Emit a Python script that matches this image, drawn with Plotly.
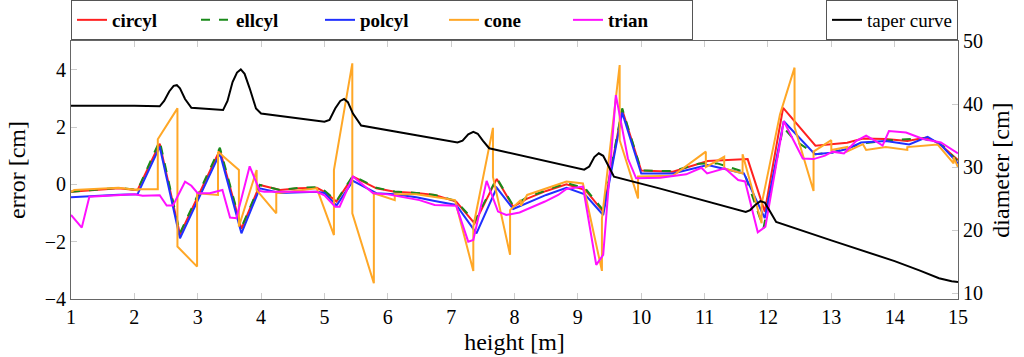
import plotly.graph_objects as go

# ---- data ----
circyl_h = [1.0, 1.4, 1.75, 2.05, 2.40, 2.72, 3.35, 3.69, 3.98, 4.3, 4.6, 4.88, 5.0, 5.19, 5.45, 5.82, 6.11, 6.45, 6.74, 7.08, 7.37, 7.72, 7.98, 8.2, 8.5, 8.82, 9.12, 9.40, 9.70, 10.0, 10.5, 11.05, 11.68, 11.95, 12.24, 12.75, 13.0, 13.25, 13.5, 13.86, 14.2, 14.5, 14.7, 15.0]
circyl_e = [-0.26, -0.2, -0.14, -0.2, 1.42, -1.75, 1.2, -1.55, -0.02, -0.2, -0.14, -0.12, -0.26, -0.6, 0.27, -0.14, -0.26, -0.3, -0.37, -0.6, -1.36, 0.19, -0.78, -0.5, -0.23, 0.0, -0.2, -0.95, 2.6, 0.48, 0.44, 0.81, 0.88, -0.95, 2.67, 1.35, 1.4, 1.45, 1.6, 1.58, 1.51, 1.63, 1.43, 0.85]

ellcyl_h = [1.0, 1.4, 1.75, 2.05, 2.40, 2.72, 3.35, 3.69, 3.98, 4.3, 4.6, 4.88, 5.0, 5.19, 5.45, 5.82, 6.11, 6.45, 6.74, 7.08, 7.37, 7.72, 7.98, 8.2, 8.5, 8.82, 9.12, 9.40, 9.70, 10.0, 10.5, 10.9, 11.2, 11.62, 11.93, 12.24, 12.42, 12.75, 13.0, 13.19, 13.5, 13.92, 14.45, 14.76, 15.0]
ellcyl_e = [-0.26, -0.18, -0.12, -0.2, 1.52, -1.7, 1.28, -1.5, -0.02, -0.2, -0.12, -0.1, -0.22, -0.58, 0.3, -0.12, -0.25, -0.3, -0.37, -0.58, -1.3, 0.22, -0.75, -0.45, -0.2, 0.05, -0.15, -0.9, 2.65, 0.48, 0.46, 0.72, 0.73, 0.44, -1.53, 2.0, 1.54, 1.05, 1.1, 1.23, 1.43, 1.54, 1.6, 1.35, 0.79]

polcyl_h = [1.0, 1.4, 1.75, 2.05, 2.40, 2.72, 3.35, 3.69, 3.98, 4.3, 4.6, 4.88, 5.0, 5.19, 5.45, 5.82, 6.11, 6.45, 6.74, 7.08, 7.40, 7.72, 7.98, 8.2, 8.5, 8.82, 9.11, 9.40, 9.70, 10.0, 10.5, 11.05, 11.62, 11.95, 12.25, 12.74, 13.0, 13.25, 13.47, 13.86, 14.23, 14.52, 14.73, 15.0]
polcyl_e = [-0.45, -0.4, -0.36, -0.35, 1.31, -1.88, 1.08, -1.71, -0.14, -0.3, -0.28, -0.26, -0.3, -0.74, 0.12, -0.31, -0.35, -0.45, -0.58, -0.72, -1.71, -0.12, -0.86, -0.65, -0.37, -0.12, -0.35, -1.07, 2.5, 0.38, 0.38, 0.67, 0.38, -1.18, 2.2, 1.05, 1.1, 1.23, 1.46, 1.51, 1.39, 1.66, 1.38, 0.73]

cone_h = [1.0, 1.05, 1.75, 2.05, 2.05, 2.37, 2.37, 2.68, 2.68, 2.99, 2.99, 3.32, 3.32, 3.65, 3.65, 3.93, 3.93, 4.24, 4.24, 4.88, 5.15, 5.15, 5.44, 5.44, 5.78, 5.78, 6.11, 6.11, 6.45, 6.74, 7.06, 7.35, 7.35, 7.66, 7.66, 7.93, 7.93, 8.1, 8.1, 8.2, 8.5, 8.82, 9.08, 9.38, 9.38, 9.66, 9.66, 9.95, 9.95, 10.5, 11.02, 11.02, 11.31, 11.31, 11.6, 11.6, 11.9, 11.9, 12.19, 12.42, 12.42, 12.72, 12.72, 13.0, 13.0, 13.25, 13.25, 13.5, 13.55, 13.86, 14.2, 14.2, 14.68, 14.93, 14.93, 15.0]
cone_e = [-0.26, -0.2, -0.12, -0.2, -0.17, -0.17, 1.57, 2.65, -2.17, -2.87, -0.31, -0.37, 1.14, 0.5, -1.47, 0.5, -0.2, -1.01, -0.31, -0.14, -1.77, 0.5, 4.22, -1.01, -3.45, -0.31, -0.55, -0.35, -0.35, -0.45, -0.55, -3.02, -1.47, 1.97, 0.26, -2.46, -0.9, -0.55, -0.75, -0.37, -0.15, 0.1, 0.03, -3.02, -1.2, 4.16, 1.54, -0.49, 0.27, 0.3, 1.14, 0.6, 0.96, 0.55, 0.38, 1.05, -1.36, -0.7, 2.44, 4.07, 2.0, -0.23, 1.14, 1.54, 1.2, 1.3, 1.15, 1.4, 1.2, 1.3, 1.2, 1.3, 1.39, 0.73, 0.95, 0.6]

trian_h = [1.0, 1.17, 1.29, 1.6, 2.0, 2.13, 2.40, 2.51, 2.61, 2.80, 2.90, 3.0, 3.19, 3.39, 3.51, 3.61, 3.82, 3.98, 4.05, 4.88, 5.0, 5.17, 5.24, 5.45, 5.53, 5.77, 6.0, 6.5, 6.74, 7.08, 7.27, 7.35, 7.56, 7.74, 7.87, 8.08, 8.48, 8.69, 8.82, 9.08, 9.29, 9.40, 9.60, 9.79, 9.92, 10.3, 10.71, 10.95, 11.04, 11.32, 11.53, 11.64, 11.84, 11.96, 12.25, 12.55, 12.72, 12.9, 13.02, 13.2, 13.39, 13.55, 13.7, 13.81, 13.91, 14.18, 14.45, 14.73, 15.0]
trian_e = [-1.07, -1.51, -0.43, -0.4, -0.35, -0.4, -0.38, -0.74, -0.74, 0.09, -0.05, -0.31, -0.31, -0.2, -1.16, -1.18, 0.63, -0.23, -0.26, -0.26, -0.38, -0.78, -0.78, 0.27, 0.12, -0.31, -0.35, -0.55, -0.72, -0.75, -2.0, -1.94, 0.12, -0.95, -1.07, -0.98, -0.6, -0.37, -0.16, -0.08, -2.81, -2.46, 3.11, 0.9, 0.21, 0.23, 0.35, 0.58, 0.38, 0.56, 0.15, 0.1, -1.67, -1.48, 2.2, 0.9, 0.88, 1.0, 1.14, 1.08, 1.51, 1.7, 1.51, 1.35, 1.86, 1.81, 1.58, 1.46, 1.08]

taper_h = [1.0, 1.5, 2.0, 2.4, 2.47, 2.55, 2.62, 2.67, 2.72, 2.8, 2.9, 3.4, 3.47, 3.55, 3.62, 3.68, 3.74, 3.82, 3.92, 4.0, 5.0, 5.08, 5.17, 5.25, 5.31, 5.37, 5.45, 5.58, 7.1, 7.18, 7.27, 7.35, 7.42, 7.5, 7.6, 9.1, 9.18, 9.26, 9.33, 9.4, 9.48, 9.57, 10.3, 11.0, 11.65, 11.72, 11.8, 11.88, 11.95, 12.02, 12.13, 13.0, 13.5, 14.0, 14.4, 14.7, 14.9, 15.0]
taper_d = [39.73, 39.75, 39.75, 39.65, 40.5, 42.0, 42.9, 43.0, 42.5, 40.8, 39.4, 39.05, 40.5, 43.5, 45.0, 45.5, 44.8, 42.5, 39.3, 38.5, 37.2, 37.5, 39.3, 40.5, 40.8, 40.3, 38.5, 36.6, 33.9, 34.2, 35.2, 35.6, 35.3, 34.2, 33.0, 29.6, 30.1, 31.6, 32.2, 31.8, 30.3, 28.5, 26.6, 24.7, 22.9, 23.2, 24.0, 24.6, 24.4, 23.2, 21.3, 18.4, 16.8, 15.1, 13.6, 12.4, 11.9, 11.8]

x_ticks = list(range(1, 16))
err_ticks = [-4, -2, 0, 2, 4]
diam_ticks = [10, 20, 30, 40, 50]

FONT = "Liberation Serif"
W, H = 1024, 357
ML, MR, MT, MB = 71, 66, 41, 58

fig = go.Figure()
series = [
    ("circyl", circyl_h, circyl_e, "#ff2020", "solid"),
    ("ellcyl", ellcyl_h, ellcyl_e, "#1a8a1a", "dash"),
    ("polcyl", polcyl_h, polcyl_e, "#2030ff", "solid"),
    ("cone", cone_h, cone_e, "#ffa726", "solid"),
    ("trian", trian_h, trian_e, "#ff10ff", "solid"),
]
for name, xs, ys, col, dash in series:
    fig.add_trace(go.Scatter(x=xs, y=ys, mode="lines", name="<b>%s</b>" % name,
                             line=dict(color=col, width=2, dash=dash), legend="legend"))

fig.add_trace(go.Scatter(x=taper_h, y=taper_d, mode="lines", name="taper curve",
                         line=dict(color="black", width=2), yaxis="y2", legend="legend2"))

fig.update_layout(
    width=W, height=H,
    margin=dict(l=ML, r=MR, t=MT, b=MB),
    paper_bgcolor="white", plot_bgcolor="white",
    font=dict(family=FONT, size=20, color="black"),
    showlegend=True,
    xaxis=dict(range=[1, 15], tickvals=x_ticks, ticks="inside", ticklen=6, tickcolor="#cccccc",
               showline=True, linecolor="#666666", linewidth=1, mirror="ticks",
               showgrid=False, zeroline=False, automargin=False,
               title=dict(text="height [m]", standoff=6), tickfont=dict(size=20)),
    yaxis=dict(range=[-4, 5], tickvals=err_ticks, ticktext=["\u22124", "\u22122", "0", "2", "4"],
               ticks="inside", ticklen=6, tickcolor="#cccccc",
               showline=True, linecolor="#666666", linewidth=1, mirror=True,
               showgrid=False, zeroline=False, automargin=False,
               title=dict(text="error [cm]", standoff=12), tickfont=dict(size=20)),
    yaxis2=dict(range=[9.1, 50], tickvals=diam_ticks, overlaying="y", side="right",
                ticks="inside", ticklen=6, tickcolor="#cccccc",
                showline=True, linecolor="#666666", linewidth=1,
                showgrid=False, zeroline=False, automargin=False,
                title=dict(text="diameter [cm]", standoff=10), tickfont=dict(size=20)),
    legend=dict(orientation="h", xref="container", yref="container",
                x=ML / W, xanchor="left", y=1, yanchor="top",
                bordercolor="#555555", borderwidth=1, bgcolor="white",
                font=dict(family=FONT, size=19), entrywidth=79, itemwidth=30),
    legend2=dict(orientation="h", xref="container", yref="container",
                 x=(W - MR) / W, xanchor="right", y=1, yanchor="top",
                 bordercolor="#555555", borderwidth=1, bgcolor="white",
                 font=dict(family=FONT, size=19), itemwidth=30),
)

fig.write_html("out.html", config={"displayModeBar": False},
               post_script="document.body.style.margin='0';document.body.style.padding='0';")
